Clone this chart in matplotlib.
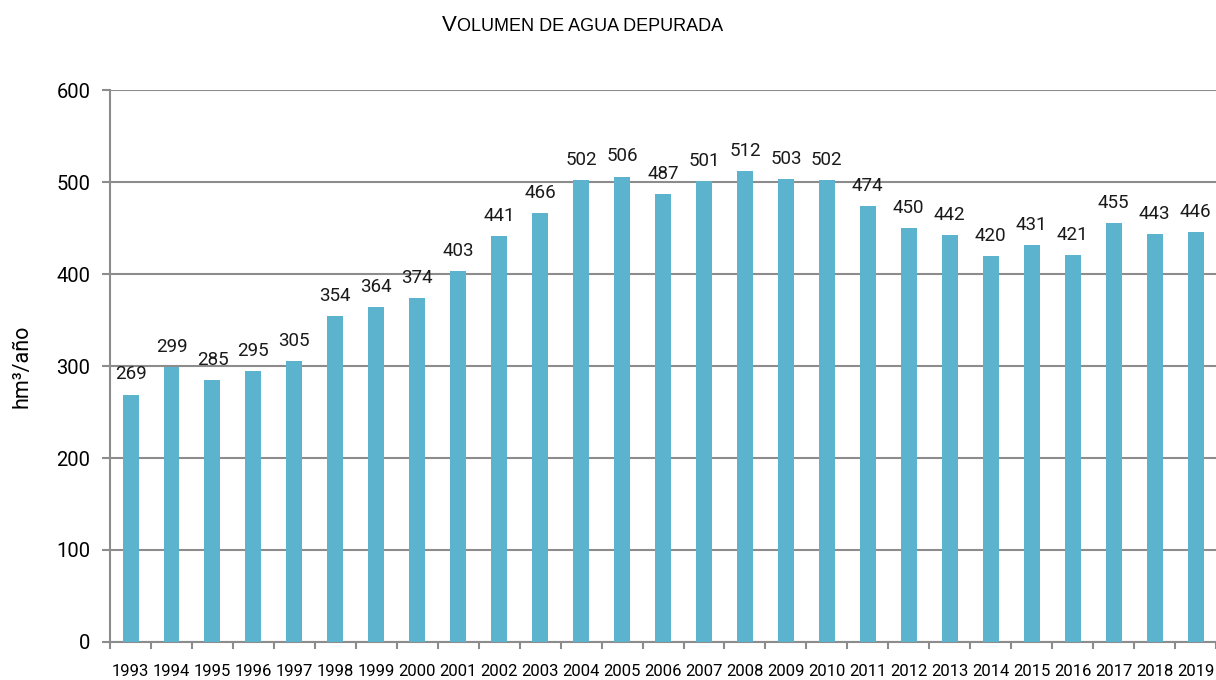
import matplotlib.pyplot as plt
import numpy as np

plt.rcParams['font.family'] = ['Roboto', 'DejaVu Sans']

years = ['1993', '1994', '1995', '1996', '1997', '1998', '1999', '2000', '2001',
         '2002', '2003', '2004', '2005', '2006', '2007', '2008', '2009', '2010',
         '2011', '2012', '2013', '2014', '2015', '2016', '2017', '2018', '2019']
volumen = [269, 299, 285, 295, 305, 354, 364, 374, 403, 441, 466, 502, 506, 487,
           501, 512, 503, 502, 474, 450, 442, 420, 431, 421, 455, 443, 446]

bar_color = '#5bb3cd'
grid_color = '#8c8c8c'

fig = plt.figure(figsize=(12.16, 6.8), dpi=100)
ax = fig.add_axes([0.0905, 0.0559, 0.9095, 0.8117])

x = np.arange(len(years))
ax.bar(x, volumen, width=0.39, color=bar_color, zorder=3)

# data labels
for xi, v in zip(x, volumen):
    ax.text(xi, v + 12, str(v), ha='center', va='bottom', fontsize=13.5, color='#1a1a1a')

ax.set_xlim(-0.5, len(years) - 0.5)
ax.set_ylim(0, 600)
ax.set_yticks(range(0, 601, 100))
ax.tick_params(axis='y', labelsize=14.5, length=6, color=grid_color, width=1.5, pad=8)

# category labels centred, ticks between categories
ax.set_xticks(x)
ax.set_xticklabels(years, fontsize=12)
ax.tick_params(axis='x', which='major', length=0, pad=16)
ax.set_xticks(np.arange(-0.5, len(years)), minor=True)
ax.tick_params(axis='x', which='minor', length=5, color=grid_color, width=1.5)

ax.yaxis.grid(True, color=grid_color, linewidth=1.5, zorder=0)
for s in ['top', 'right']:
    ax.spines[s].set_visible(False)
for s in ['left', 'bottom']:
    ax.spines[s].set_color(grid_color)
    ax.spines[s].set_linewidth(1.5)

ax.set_ylabel('hm³/año', fontsize=15.5, labelpad=17)

# small-caps style title
fig.text(0.3755, 0.963, 'V', fontsize=16, family=['Liberation Sans'], ha='right', va='center')
fig.text(0.3755, 0.961, 'OLUMEN DE AGUA DEPURADA', fontsize=13, family=['Liberation Sans'],
         ha='left', va='center')

fig.savefig('out.png', dpi=100)
